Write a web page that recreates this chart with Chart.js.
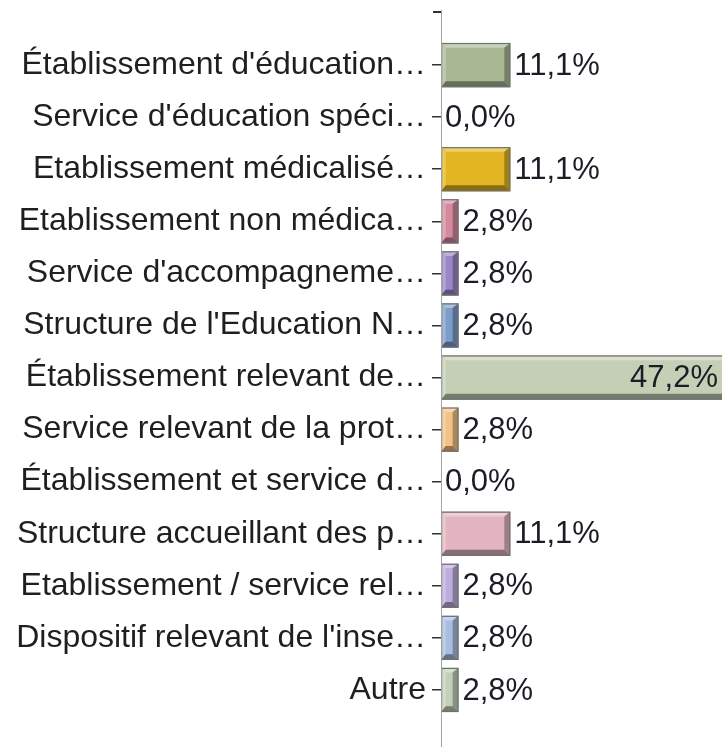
<!DOCTYPE html>
<html>
<head>
<meta charset="utf-8">
<script src="https://cdn.jsdelivr.net/npm/chart.js@4/dist/chart.umd.min.js"></script>
<style>
  html, body { margin: 0; padding: 0; background: #ffffff; }
  #wrap { width: 722px; height: 747px; position: relative; }
</style>
</head>
<body>
<div id="wrap"><canvas id="c" width="722" height="747"></canvas></div>
<script>
const categories = [
  "Établissement d'éducation…",
  "Service d'éducation spéci…",
  "Etablissement médicalisé…",
  "Etablissement non médica…",
  "Service d'accompagneme…",
  "Structure de l'Education N…",
  "Établissement relevant de…",
  "Service relevant de la prot…",
  "Établissement et service d…",
  "Structure accueillant des p…",
  "Etablissement / service rel…",
  "Dispositif relevant de l'inse…",
  "Autre"
];
const values = [11.1, 0.0, 11.1, 2.8, 2.8, 2.8, 47.2, 2.8, 0.0, 11.1, 2.8, 2.8, 2.8];
const barColors = [
  "#a8b894", "#9fb0c8", "#e3b522", "#d4899e", "#9c86c8", "#7e9cc8", "#c4cfb6",
  "#f2c286", "#c4cfb6", "#e3b5c0", "#bcaddd", "#a9bedf", "#c3d0b9"
];
const xMax = 45;

const FONT = '"Liberation Sans", Arial, sans-serif';

function mix(hex, target, t) {
  const n = parseInt(hex.slice(1), 16);
  const r = (n >> 16) & 255, g = (n >> 8) & 255, b = n & 255;
  const tr = target === 'white' ? 255 : 0;
  const f = c => Math.round(c + (tr - c) * t);
  return `rgb(${f(r)},${f(g)},${f(b)})`;
}

const bevelPlugin = {
  id: 'bevel',
  afterDatasetsDraw(chart) {
    const ctx = chart.ctx;
    const area = chart.chartArea;
    const meta = chart.getDatasetMeta(0);
    ctx.save();
    ctx.beginPath();
    ctx.rect(area.left, area.top, area.right - area.left, area.bottom - area.top);
    ctx.clip();
    meta.data.forEach((bar, i) => {
      const p = bar.getProps(['x', 'y', 'base', 'height'], true);
      const l = Math.min(p.base, p.x), r = Math.max(p.base, p.x);
      const t = p.y - p.height / 2, b = p.y + p.height / 2;
      const w = r - l;
      if (w < 1) return;
      const col = barColors[i];
      const bv = Math.min(6, w / 3);
      ctx.fillStyle = mix(col, 'white', 0.35);
      ctx.beginPath();
      ctx.moveTo(l, t); ctx.lineTo(r, t); ctx.lineTo(r - bv, t + bv * 0.8); ctx.lineTo(l + bv * 0.8, t + bv * 0.8); ctx.closePath();
      ctx.fill();
      ctx.fillStyle = mix(col, 'white', 0.25);
      ctx.beginPath();
      ctx.moveTo(l, t); ctx.lineTo(l + bv * 0.8, t + bv * 0.8); ctx.lineTo(l + bv * 0.8, b - bv); ctx.lineTo(l, b); ctx.closePath();
      ctx.fill();
      ctx.fillStyle = mix(col, 'black', 0.3);
      ctx.beginPath();
      ctx.moveTo(r, t); ctx.lineTo(r, b); ctx.lineTo(r - bv, b - bv); ctx.lineTo(r - bv, t + bv * 0.8); ctx.closePath();
      ctx.fill();
      ctx.fillStyle = mix(col, 'black', 0.4);
      ctx.beginPath();
      ctx.moveTo(l, b); ctx.lineTo(r, b); ctx.lineTo(r - bv, b - bv); ctx.lineTo(l + bv * 0.8, b - bv); ctx.closePath();
      ctx.fill();
      ctx.strokeStyle = '#707070';
      ctx.lineWidth = 1.2;
      ctx.strokeRect(l + 0.6, t + 0.6, w - 1.2, p.height - 1.2);
    });
    ctx.restore();

    ctx.save();
    ctx.font = '31px ' + FONT;
    ctx.fillStyle = '#1c1c26';
    ctx.textBaseline = 'middle';
    meta.data.forEach((bar, i) => {
      const p = bar.getProps(['x', 'y'], true);
      const txt = values[i].toFixed(1).replace('.', ',') + '%';
      const tw = ctx.measureText(txt).width;
      const endX = p.x + 4;
      if (endX + tw > area.right) {
        ctx.textAlign = 'right';
        ctx.fillText(txt, Math.min(p.x, area.right) - 4, p.y + 1);
      } else {
        ctx.textAlign = 'left';
        ctx.fillText(txt, endX, p.y + 1);
      }
    });
    ctx.restore();

    ctx.save();
    ctx.strokeStyle = '#a3a3a3';
    ctx.lineWidth = 1;
    ctx.beginPath();
    ctx.moveTo(area.left + 0.5, area.top - 29);
    ctx.lineTo(area.left + 0.5, chart.height);
    ctx.stroke();
    ctx.strokeStyle = '#333333';
    ctx.lineWidth = 2;
    ctx.beginPath();
    ctx.moveTo(area.left - 8, area.top - 27);
    ctx.lineTo(area.left, area.top - 27);
    ctx.stroke();
    ctx.restore();
  }
};

new Chart(document.getElementById('c'), {
  type: 'bar',
  data: {
    labels: categories,
    datasets: [{
      data: values,
      backgroundColor: barColors,
      borderWidth: 0,
      barPercentage: 0.85,
      categoryPercentage: 1.0
    }]
  },
  options: {
    indexAxis: 'y',
    responsive: false,
    animation: false,
    layout: { padding: { top: 39, bottom: 31, left: 0, right: 0 } },
    plugins: { legend: { display: false }, tooltip: { enabled: false } },
    scales: {
      x: { display: false, min: 0, max: xMax },
      y: {
        afterFit(scale) { scale.width = 441; },
        border: { display: false },
        grid: {
          display: true, drawOnChartArea: false, drawTicks: true,
          tickLength: 9, offset: false, color: '#333333', lineWidth: 1.5
        },
        ticks: {
          autoSkip: false,
          padding: 6,
          color: '#1f1f1f',
          font: { family: FONT, size: 32 }
        }
      }
    }
  },
  plugins: [bevelPlugin]
});
</script>
</body>
</html>
